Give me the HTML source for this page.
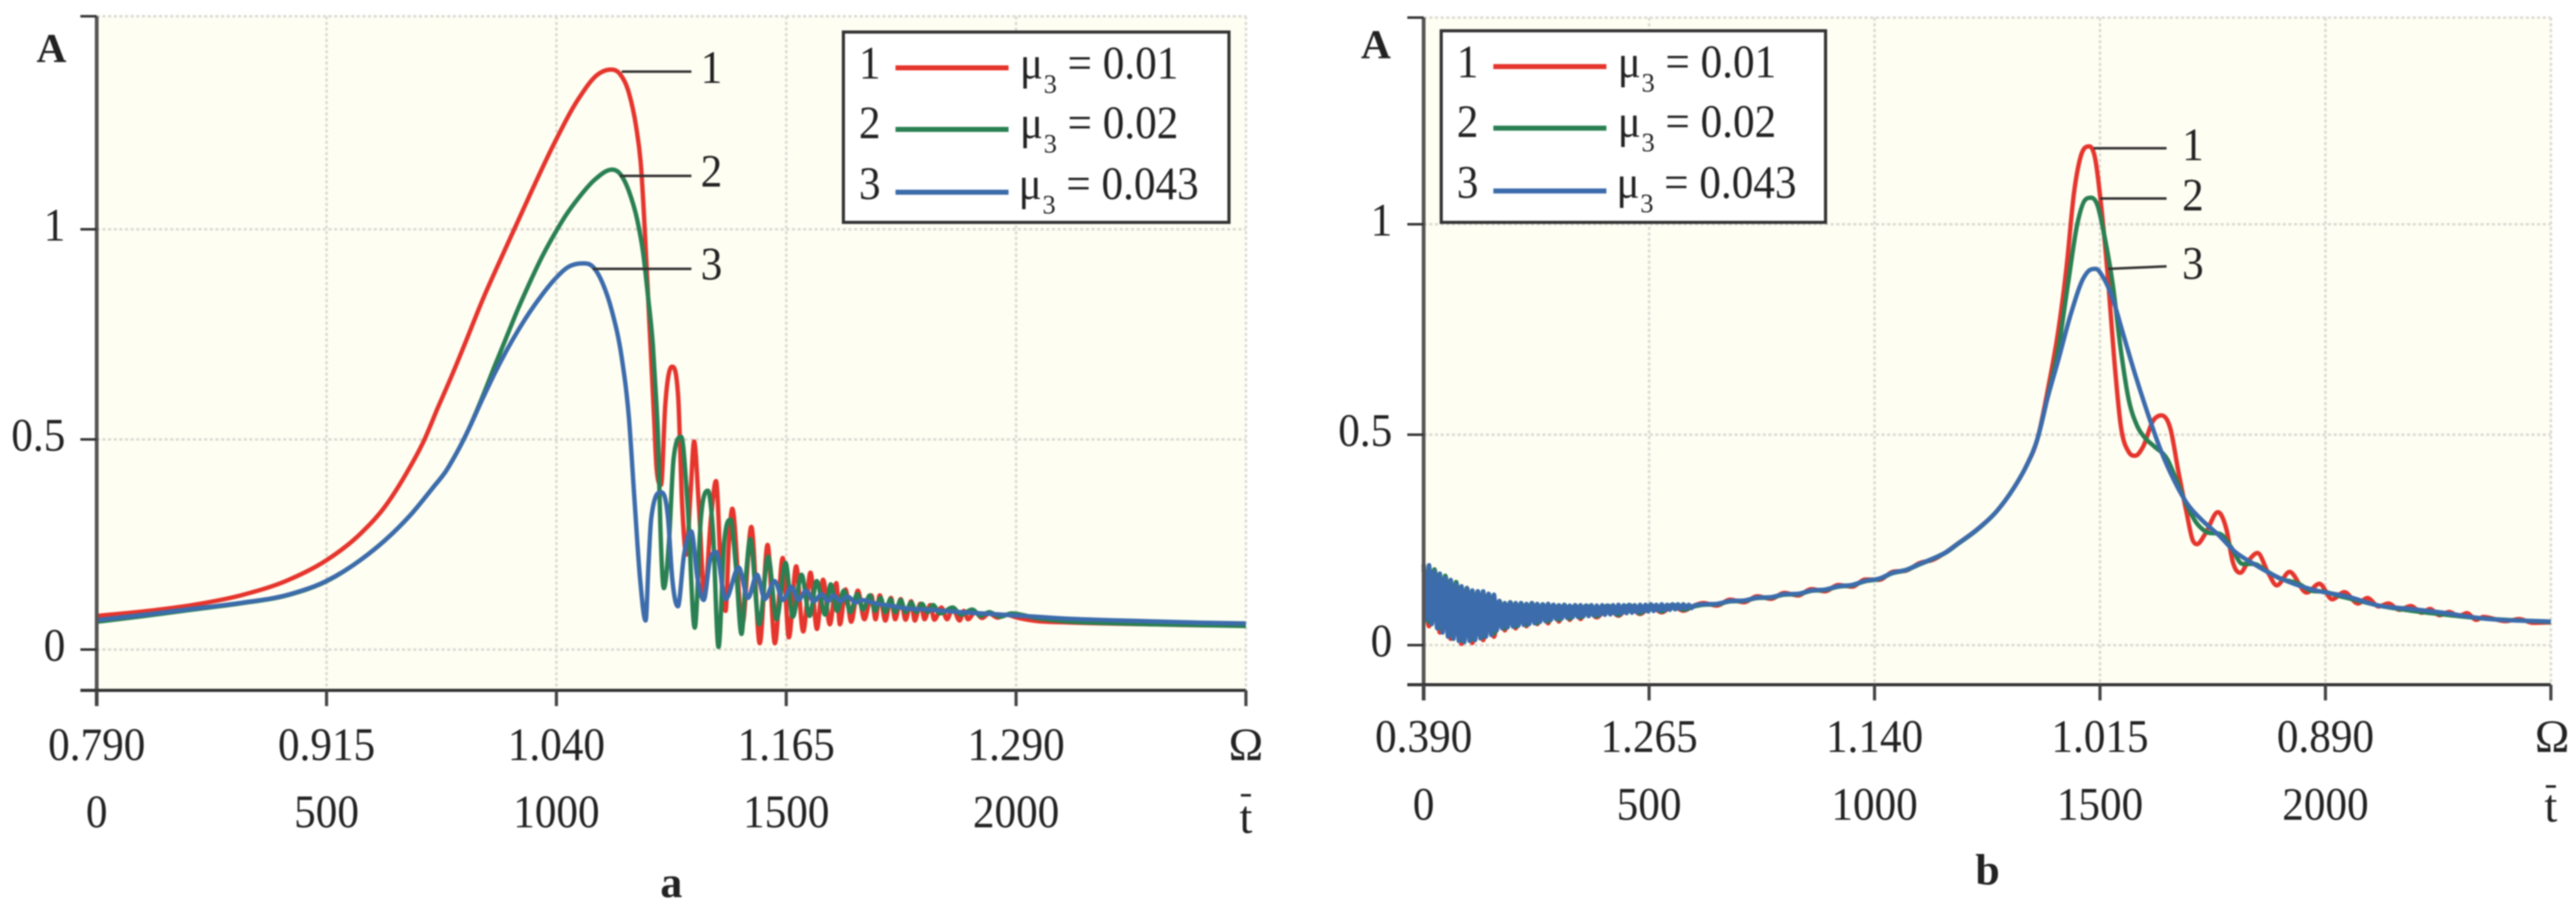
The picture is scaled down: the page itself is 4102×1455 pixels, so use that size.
<!DOCTYPE html>
<html lang="en">
<head>
<meta charset="utf-8">
<title>Amplitude curves a and b</title>
<style>
html,body{margin:0;padding:0;background:#fff;}
#fig{display:block;width:4102px;height:1455px;filter:blur(1px);}
text{font-family:"Liberation Serif",serif;fill:#222;}
</style>
</head>
<body>
<svg id="fig" xmlns="http://www.w3.org/2000/svg" width="4102" height="1455" viewBox="0 0 4102 1455">
  <rect x="154" y="26" width="1830" height="1073" fill="#fffef3"/>
  <rect x="2267" y="28" width="1795" height="1062" fill="#fffef3"/>
  <g id="layer-a"></g>
  <g id="layer-b"></g>

  <g font-size="74">
    <rect x="1343" y="51" width="614" height="303" fill="#fff" stroke="#333" stroke-width="5"/>
    <text transform="translate(1385,125) scale(.93,1)" text-anchor="middle">1</text>
    <line x1="1426" x2="1606" y1="108" y2="108" stroke="#e5352d" stroke-width="8"/>
    <text transform="translate(1624,125) scale(.93,1)">μ</text>
    <text transform="translate(1662,148)" font-size="42">3</text>
    <text transform="translate(1700,125) scale(.93,1)">= 0.01</text>
    <text transform="translate(1385,220) scale(.93,1)" text-anchor="middle">2</text>
    <line x1="1426" x2="1606" y1="206" y2="206" stroke="#2a8052" stroke-width="8"/>
    <text transform="translate(1624,220) scale(.93,1)">μ</text>
    <text transform="translate(1662,243)" font-size="42">3</text>
    <text transform="translate(1700,220) scale(.93,1)">= 0.02</text>
    <text transform="translate(1385,317) scale(.93,1)" text-anchor="middle">3</text>
    <line x1="1426" x2="1606" y1="306" y2="306" stroke="#3c6cab" stroke-width="8"/>
    <text transform="translate(1622,317) scale(.93,1)">μ</text>
    <text transform="translate(1660,340)" font-size="42">3</text>
    <text transform="translate(1698,317) scale(.93,1)">= 0.043</text>
  </g>

  <g font-size="74" transform="translate(952,-2)">
    <rect x="1343" y="51" width="612" height="305" fill="#fff" stroke="#333" stroke-width="5"/>
    <text transform="translate(1385,125) scale(.93,1)" text-anchor="middle">1</text>
    <line x1="1426" x2="1606" y1="108" y2="108" stroke="#e5352d" stroke-width="8"/>
    <text transform="translate(1624,125) scale(.93,1)">μ</text>
    <text transform="translate(1662,148)" font-size="42">3</text>
    <text transform="translate(1700,125) scale(.93,1)">= 0.01</text>
    <text transform="translate(1385,220) scale(.93,1)" text-anchor="middle">2</text>
    <line x1="1426" x2="1606" y1="206" y2="206" stroke="#2a8052" stroke-width="8"/>
    <text transform="translate(1624,220) scale(.93,1)">μ</text>
    <text transform="translate(1662,243)" font-size="42">3</text>
    <text transform="translate(1700,220) scale(.93,1)">= 0.02</text>
    <text transform="translate(1385,317) scale(.93,1)" text-anchor="middle">3</text>
    <line x1="1426" x2="1606" y1="306" y2="306" stroke="#3c6cab" stroke-width="8"/>
    <text transform="translate(1622,317) scale(.93,1)">μ</text>
    <text transform="translate(1660,340)" font-size="42">3</text>
    <text transform="translate(1698,317) scale(.93,1)">= 0.043</text>
  </g>

  <g font-size="74" text-anchor="middle">
    <line x1="990" x2="1101" y1="114" y2="114" stroke="#333" stroke-width="4"/>
    <text transform="translate(1133,132) scale(.93,1)">1</text>
    <line x1="987" x2="1101" y1="280" y2="280" stroke="#333" stroke-width="4"/>
    <text transform="translate(1133,297) scale(.93,1)">2</text>
    <line x1="944" x2="1101" y1="428" y2="428" stroke="#333" stroke-width="4"/>
    <text transform="translate(1133,445) scale(.93,1)">3</text>
  </g>
  <g font-size="74" text-anchor="middle">
    <line x1="3334" x2="3450" y1="236" y2="236" stroke="#333" stroke-width="4"/>
    <text transform="translate(3492,255) scale(.93,1)">1</text>
    <line x1="3344" x2="3450" y1="316" y2="316" stroke="#333" stroke-width="4"/>
    <text transform="translate(3492,335) scale(.93,1)">2</text>
    <line x1="3357" x2="3450" y1="428" y2="424" stroke="#333" stroke-width="4"/>
    <text transform="translate(3492,444) scale(.93,1)">3</text>
  </g>

  <text x="82" y="99" font-size="66" font-weight="bold" text-anchor="middle">A</text>
  <text x="2191" y="93" font-size="66" font-weight="bold" text-anchor="middle">A</text>
  <text x="1069" y="1428" font-size="70" font-weight="bold" text-anchor="middle">a</text>
  <text x="3165" y="1408" font-size="70" font-weight="bold" text-anchor="middle">b</text>

  <text x="1984" y="1210" font-size="74" text-anchor="middle">Ω</text>
  <text x="1984" y="1326" font-size="74" text-anchor="middle">t</text>
  <line x1="1976" x2="1992" y1="1266" y2="1266" stroke="#222" stroke-width="4"/>
  <text x="4064" y="1197" font-size="74" text-anchor="middle">Ω</text>
  <text x="4062" y="1308" font-size="74" text-anchor="middle">t</text>
  <line x1="4054" x2="4070" y1="1252" y2="1252" stroke="#222" stroke-width="4"/>
</svg>

<script>
// ---------- Shared axis data ----------
const timeTicks = [0, 500, 1000, 1500, 2000, 2500];
const timeTickLabels = ["0", "500", "1000", "1500", "2000"];
const ampTicks = [0, 0.5, 1];
const ampTickLabels = ["0", "0.5", "1"];
const ampTopA = 1.507;
const ampTopB = 1.491;
const omegaLabelsA = ["0.790", "0.915", "1.040", "1.165", "1.290"];
const omegaLabelsB = ["0.390", "1.265", "1.140", "1.015", "0.890"];

// ---------- Panel a series ----------
const aRedT = [0,104.6,209,313.7,418,499,575,627,674,711,742,773.7,800,838.7,890.9,943.2,995.5,1047.8,1089.6,1118.4,1139.3,1157.6,1173.3,1183.7,1193.1,1202,1212.5,1218,1227.7,1236.8,1251.7,1265,1273.4,1282.6,1291.7,1299.6,1310,1322.2,1336.2,1347.2,1358.8,1368,1375.3,1382.6,1404.5,1424.1,1442.4,1459.4,1475.3,1492.4,1505.8,1521.6,1536.9,1552.7,1566.8,1580.2,1594.8,1608.9,1616.8,1629,1641.2,1655.8,1669.9,1685.1,1694.3,1703.4,1715.6,1727.8,1737,1749.1,1759.5,1771.7,1779.6,1791.8,1801,1813.2,1822.3,1837.6,1849.8,1862,1877.2,1886.4,1895.5,1910.7,1926,1941.3,1959.6,1978,2002.3,2043.7,2100,2200,2300,2400,2500];
const aRedA = [.08,.091,.106,.129,.166,.212,.277,.34,.42,.495,.575,.655,.725,.83,.958,1.084,1.205,1.31,1.368,1.38,1.368,1.325,1.245,1.154,.982,.782,.553,.43,.392,.58,.673,.6,.35,.226,.369,.495,.341,.129,.312,.401,.169,.092,.255,.335,.06,.292,.015,.249,.015,.218,.029,.198,.043,.183,.049,.166,.06,.158,.06,.143,.066,.14,.072,.129,.072,.129,.069,.123,.072,.12,.071,.115,.069,.109,.072,.106,.071,.1,.072,.098,.069,.092,.072,.089,.075,.086,.076,.083,.076,.068,.065,.062,.06,.058,.058];

const aGreenT = [0,104.6,209,313.7,418,499,575,627,680,732,760,784,807.3,838.7,864.8,890.9,917.1,943.2,969.4,995.5,1021.6,1047.8,1084.4,1121,1139.3,1157.6,1175.9,1188.9,1199.4,1209.8,1217.7,1221.3,1226,1233.8,1244.8,1255,1271.6,1285.6,1300.9,1314.3,1329.5,1340.5,1352.7,1365,1378.9,1390.5,1402.7,1411.9,1421.6,1441.1,1460.7,1479,1498.5,1514.3,1533.2,1550.9,1566.2,1584.5,1596.7,1610.7,1625.3,1639.4,1654.6,1666.8,1682,1693,1705.2,1715.6,1726.6,1737,1749.1,1759.5,1771.7,1782.7,1794.9,1807.1,1819.3,1834.5,1862,1880.3,1904.6,1923,1941.3,1965.7,1990,2043.7,2100,2200,2300,2400,2500];
const aGreenA = [.066,.08,.095,.11,.13,.162,.214,.26,.317,.386,.425,.47,.52,.6,.672,.742,.812,.876,.936,.988,1.035,1.074,1.119,1.142,1.131,1.091,1.022,.942,.839,.725,.582,.5,.3,.146,.255,.455,.506,.341,.052,.312,.378,.283,.006,.255,.309,.198,.037,.169,.263,.06,.221,.072,.206,.078,.178,.08,.163,.083,.155,.092,.14,.089,.132,.095,.129,.092,.123,.089,.12,.089,.118,.089,.112,.089,.109,.089,.106,.086,.1,.083,.095,.08,.089,.078,.086,.075,.068,.063,.06,.058,.056];

const aBlueT = [0,104.6,209,313.7,418,499,575,627,680,732,760,784,807.3,838.7,864.8,890.9,917.1,943.2,969.4,995.5,1026.9,1058.2,1079.1,1100,1120.9,1141.9,1157.6,1169.7,1182,1194.1,1200.2,1206.3,1227.7,1242.9,1252,1264.3,1277.7,1293.5,1307,1320.4,1334.4,1347.8,1368,1396.6,1416.8,1436.3,1453.3,1474.7,1493,1511.3,1526.5,1543.6,1560,1577.1,1590.6,1602.8,1618,1633.3,1651.6,1663.8,1697.3,1733.9,1758.3,1807.1,1880.3,1941.3,2043.7,2100,2200,2300,2400,2500];
const aBlueA = [.07,.083,.097,.111,.131,.163,.214,.26,.317,.386,.425,.47,.52,.595,.655,.71,.76,.805,.845,.88,.911,.919,.911,.873,.805,.696,.553,.36,.169,.069,.198,.312,.374,.312,.169,.103,.226,.281,.169,.118,.215,.232,.12,.195,.123,.178,.12,.163,.118,.149,.118,.14,.115,.132,.115,.129,.115,.126,.112,.118,.109,.103,.098,.095,.089,.085,.078,.074,.07,.067,.064,.062];

// ---------- Panel b series ----------
const bRedT = [0,12,24,36,48,60,72,84,96,108,120,132,144,156,168,180,192,204,216,228,240,252,264,276,288,300,312,324,336,348,360,384,408,432,456,480,504,528,552,576,600,620,650,680,710,740,770,800,830,860,890,920,950,980,1010,1040,1070,1100,1130,1160,1183,1229.8,1272.4,1308,1336.4,1361.3,1386.1,1407.4,1425.2,1443,1457.2,1476.4,1489.2,1503.4,1517.6,1531.8,1546,1563.8,1578,1595.8,1617.1,1636.3,1656.2,1674,1691.7,1705.9,1715.2,1734.3,1761.4,1780.5,1794.7,1811.1,1830.3,1849.5,1872.9,1892.1,1920.5,1958.2,1986.6,2015,2042,2071.9,2093.1,2118.1,2139.4,2164.3,2189.1,2214,2231.8,2253.1,2274.4,2295.7,2313.5,2334.8,2350,2400,2430,2460,2500];
const bRedA = [.18,.045,.17,.03,.155,.015,.14,.003,.13,.005,.122,.012,.118,.02,.1,.035,.098,.04,.096,.045,.094,.05,.093,.052,.092,.056,.091,.06,.09,.062,.09,.066,.09,.07,.092,.074,.092,.078,.093,.082,.094,.1,.094,.108,.102,.116,.11,.124,.118,.133,.128,.143,.139,.156,.155,.174,.177,.195,.203,.222,.24,.277,.32,.372,.425,.49,.617,.746,.892,1.08,1.161,1.185,1.157,1.037,.874,.677,.523,.459,.45,.472,.532,.546,.514,.412,.317,.249,.24,.266,.316,.275,.197,.172,.202,.219,.172,.142,.174,.125,.146,.109,.126,.099,.112,.092,.099,.084,.093,.077,.086,.071,.079,.069,.076,.06,.067,.057,.062,.053,.054];

const bGreenT = [0,12,24,36,48,60,72,84,96,108,120,132,144,156,168,180,192,204,216,228,240,252,264,276,288,300,312,324,336,348,360,384,408,432,456,480,504,528,552,576,600,620,650,680,710,740,770,800,830,860,890,920,950,980,1010,1040,1070,1100,1130,1160,1183,1229.8,1272.4,1308,1336.4,1361.3,1386.1,1407.4,1428.8,1450.1,1467.9,1480.6,1494.1,1510.5,1528.3,1546,1563.8,1581.6,1599.3,1620.6,1649,1670.4,1691.7,1713,1734.3,1769.9,1791.2,1816,1840.9,1869.4,1897.8,1940.4,1968.9,1997.3,2032.8,2068.3,2118.1,2189.1,2260.2,2344,2500];
const bGreenA = [.192,.055,.18,.04,.165,.025,.15,.012,.136,.014,.128,.02,.122,.028,.105,.04,.102,.044,.1,.048,.1,.052,.097,.056,.096,.06,.096,.063,.095,.066,.094,.069,.094,.072,.095,.076,.095,.08,.096,.084,.092,.096,.097,.104,.105,.112,.113,.12,.121,.129,.131,.139,.142,.152,.157,.171,.178,.192,.205,.221,.239,.276,.32,.372,.425,.49,.6,.703,.857,1.003,1.059,1.063,1.046,.969,.857,.703,.583,.523,.493,.472,.442,.39,.335,.292,.27,.262,.232,.193,.193,.176,.159,.146,.129,.127,.116,.107,.094,.082,.073,.064,.055];

const bBlueT = [0,6,12,18,24,30,36,42,48,54,60,66,72,78,84,90,96,102,108,114,120,126,132,138,144,150,156,162,168,174,180,186,192,198,204,210,216,222,228,234,240,246,252,258,264,270,276,282,288,294,300,306,312,318,324,330,336,342,348,354,360,366,372,378,384,390,396,402,408,414,420,426,432,438,444,450,456,462,468,474,480,486,492,498,504,510,516,522,528,534,540,546,552,558,564,570,576,582,588,594,600,620,650,680,710,740,770,800,830,860,890,920,950,980,1010,1040,1070,1100,1130,1160,1183,1229.8,1272.4,1308,1336.4,1361.3,1382.6,1407.4,1435.9,1464.3,1478.5,1490.6,1507,1528.3,1549.6,1578,1606.4,1634.8,1663.3,1691.7,1727.2,1762.8,1798.3,1840.9,1883.6,1940.4,1983,2047,2118.1,2189.1,2260.2,2344,2500];
const bBlueA = [.19,.06,.19,.05,.175,.04,.17,.03,.16,.02,.155,.015,.145,.01,.14,.007,.135,.01,.13,.012,.128,.016,.128,.02,.122,.024,.12,.035,.105,.04,.1,.042,.102,.044,.1,.046,.1,.048,.098,.05,.1,.052,.098,.055,.097,.057,.098,.06,.096,.062,.095,.063,.096,.065,.094,.066,.095,.067,.095,.068,.094,.069,.095,.07,.094,.071,.095,.072,.094,.073,.095,.074,.096,.075,.095,.076,.096,.077,.095,.078,.096,.079,.096,.08,.097,.081,.096,.082,.097,.083,.096,.084,.097,.085,.097,.086,.097,.087,.096,.088,.094,.097,.098,.105,.106,.113,.114,.121,.122,.13,.132,.14,.143,.153,.158,.172,.179,.193,.206,.222,.24,.277,.32,.372,.425,.49,.583,.677,.789,.874,.892,.894,.874,.823,.746,.643,.549,.463,.394,.339,.296,.262,.223,.193,.167,.142,.129,.116,.094,.086,.077,.064,.056];

// ---------- Rendering ----------
const NS = "http://www.w3.org/2000/svg";
const RED = "#e5352d", GREEN = "#2a8052", BLUE = "#3c6cab";

function node(parent, tag) {
  const el = document.createElementNS(NS, tag);
  parent.appendChild(el);
  return el;
}
function lineEl(parent, x1, y1, x2, y2, color, width, dash) {
  const el = node(parent, "line");
  el.setAttribute("x1", x1); el.setAttribute("y1", y1);
  el.setAttribute("x2", x2); el.setAttribute("y2", y2);
  el.setAttribute("stroke", color); el.setAttribute("stroke-width", width);
  if (dash) el.setAttribute("stroke-dasharray", dash);
  return el;
}
function labelEl(parent, x, y, str, anchor) {
  const el = node(parent, "text");
  el.setAttribute("transform", "translate(" + x + "," + y + ") scale(.93,1)");
  el.setAttribute("font-size", "74");
  el.setAttribute("text-anchor", anchor);
  el.textContent = str;
  return el;
}
// Cubic path with weighted tangents, flat at extrema and limited to avoid overshoot
function smoothPath(xs, ys) {
  const n = xs.length, d = [], h = [], m = [];
  for (let i = 0; i < n - 1; i++) {
    h.push(xs[i + 1] - xs[i]);
    d.push((ys[i + 1] - ys[i]) / h[i]);
  }
  m.push(d[0]);
  for (let i = 1; i < n - 1; i++) {
    if (d[i - 1] * d[i] <= 0) { m.push(0); continue; }
    const raw = (h[i] * d[i - 1] + h[i - 1] * d[i]) / (h[i - 1] + h[i]);
    const lim = 3 * Math.min(Math.abs(d[i - 1]), Math.abs(d[i]));
    m.push(Math.sign(raw) * Math.min(Math.abs(raw), lim));
  }
  m.push(d[n - 2]);
  let p = "M" + xs[0].toFixed(1) + " " + ys[0].toFixed(1);
  for (let i = 0; i < n - 1; i++) {
    const s = h[i] / 3;
    p += "C" + (xs[i] + s).toFixed(1) + " " + (ys[i] + m[i] * s).toFixed(1) + " " +
         (xs[i + 1] - s).toFixed(1) + " " + (ys[i + 1] - m[i + 1] * s).toFixed(1) + " " +
         xs[i + 1].toFixed(1) + " " + ys[i + 1].toFixed(1);
  }
  return p;
}

function drawPanel(cfg) {
  const g = document.getElementById(cfg.layer);
  const x = t => cfg.x0 + t * cfg.kx;
  const y = a => cfg.y0 - a * cfg.ky;
  const right = x(timeTicks[timeTicks.length - 1]);
  const top = y(cfg.topA);
  const left = cfg.x0 - 26;
  const gridColor = "#dcdcd5";

  timeTicks.forEach(t => {
    const grid = lineEl(g, x(t), top, x(t), cfg.axisY, gridColor, 4, "5 4");
    
    
  });
  ampTicks.concat([cfg.topA]).forEach(a => {
    const grid = lineEl(g, cfg.x0, y(a), right, y(a), gridColor, 4, "5 4");
    
    
  });

  cfg.series.forEach(s => {
    const path = node(g, "path");
    path.setAttribute("d", smoothPath(s.t.map(x), s.a.map(y)));
    path.setAttribute("fill", "none");
    path.setAttribute("stroke", s.color);
    path.setAttribute("stroke-width", "7");
    path.setAttribute("stroke-linejoin", "round");
    
    
  });

  const yAxis = lineEl(g, cfg.x0, top, cfg.x0, cfg.axisY + 25, "#555", 6);
  
  
  const xAxis = lineEl(g, left, cfg.axisY, right, cfg.axisY, "#333", 5);
  
  

  timeTicks.forEach(t => {
    const tick = lineEl(g, x(t), cfg.axisY, x(t), cfg.axisY + 25, "#444", 5);
    
    
  });
  ampTicks.concat([cfg.topA]).forEach(a => {
    const tick = lineEl(g, left, y(a), cfg.x0, y(a), "#333", 4);
    
    
  });

  cfg.omegaLabels.forEach((str, i) => {
    const lab = labelEl(g, x(timeTicks[i]), cfg.row1, str, "middle");
    
    
  });
  timeTickLabels.forEach((str, i) => {
    const lab = labelEl(g, x(timeTicks[i]), cfg.row2, str, "middle");
    
    
  });
  ampTickLabels.forEach((str, i) => {
    const lab = labelEl(g, cfg.x0 - 50, y(ampTicks[i]) + 18, str, "end");
    
    
  });
}

drawPanel({
  layer: "layer-a", x0: 154, kx: 0.732, y0: 1034, ky: 669, axisY: 1099, topA: ampTopA,
  row1: 1210, row2: 1317, omegaLabels: omegaLabelsA,
  series: [
    { t: aRedT, a: aRedA, color: RED },
    { t: aGreenT, a: aGreenA, color: GREEN },
    { t: aBlueT, a: aBlueA, color: BLUE }
  ]
});
drawPanel({
  layer: "layer-b", x0: 2267, kx: 0.718, y0: 1027, ky: 670, axisY: 1090, topA: ampTopB,
  row1: 1197, row2: 1305, omegaLabels: omegaLabelsB,
  series: [
    { t: bRedT, a: bRedA, color: RED },
    { t: bGreenT, a: bGreenA, color: GREEN },
    { t: bBlueT, a: bBlueA, color: BLUE }
  ]
});
</script>
</body>
</html>
